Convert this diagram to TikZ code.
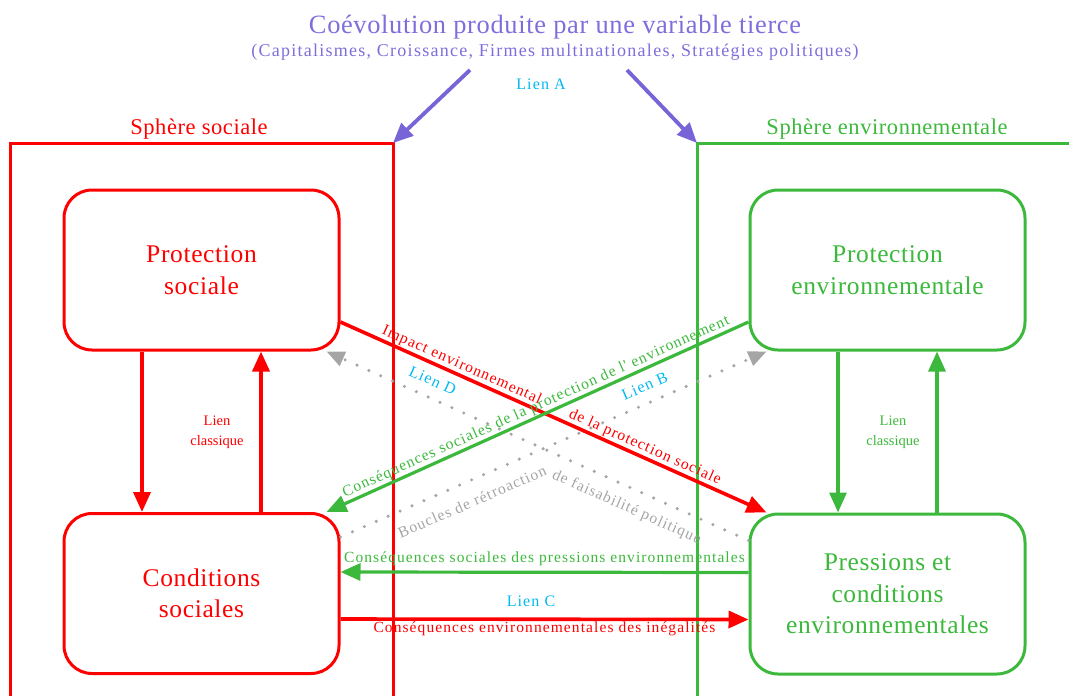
\documentclass[tikz,border=0pt]{standalone}
\usepackage{fontspec}
\setmainfont{Liberation Serif}
\newfontfamily\widefont{Liberation Serif}[LetterSpace=7]
\newfontfamily\semifont{Liberation Serif}[LetterSpace=2.5]
\usetikzlibrary{arrows.meta}
\definecolor{sred}{RGB}{255,0,0}
\definecolor{egreen}{RGB}{60,185,60}
\definecolor{lpurple}{RGB}{120,100,215}
\definecolor{tpurple}{RGB}{125,110,220}
\definecolor{lcyan}{RGB}{0,185,240}
\definecolor{lgray}{RGB}{165,165,165}
\tikzset{
  box/.style={draw, line width=3pt, rounded corners=28pt, minimum width=275pt, minimum height=160pt, align=center, inner sep=0pt, font=\semifont\fontsize{25.5}{31.5}\selectfont},
  spherebox/.style={line width=3pt},
  arr/.style={line width=3.6pt, -{Triangle[length=20pt,width=17pt]}},
  darr/.style={line width=3.4pt, lgray, line cap=round, dash pattern=on 0pt off 13pt, -{Triangle[length=18pt,width=15pt,line cap=butt]}},
  lbl/.style={font=\widefont\fontsize{15.5}{18}\selectfont, inner sep=1pt},
  clbl/.style={font=\fontsize{14.5}{20}\selectfont, inner sep=1pt, align=center},
  lien/.style={font=\widefont\fontsize{16}{18}\selectfont, text=lcyan, inner sep=1pt},
}
\begin{document}
\begin{tikzpicture}[x=1pt,y=-1pt]
\useasboundingbox (0,0) rectangle (1069,696);
% title
\node[text=tpurple, font=\semifont\fontsize{26.4}{30}\selectfont] (title) at (555,27) {Coévolution produite par une variable tierce};
\node[text=tpurple, font=\widefont\fontsize{18}{20}\selectfont] (subtitle) at (555,52) {(Capitalismes, Croissance, Firmes multinationales, Stratégies politiques)};
\node[lien] (lienA) at (541,84) {Lien A};
% spheres
\coordinate (socTR) at (393,143);
\coordinate (envTL) at (697,143);
\draw[spherebox, sred] (10,700) |- (socTR) -- (393,700);
\draw[spherebox, egreen] (697,700) -- (envTL) -- (1075,143);
\node[text=sred, font=\semifont\fontsize{22.5}{25}\selectfont] (socLab) at (199,129) {Sphère sociale};
\node[text=egreen, font=\semifont\fontsize{22.5}{25}\selectfont] (envLab) at (887,129) {Sphère environnementale};
\coordinate (a1) at (470,70);
\coordinate (a2) at (627,70);
\draw[arr, lpurple, line width=3.8pt] (a1) -- (socTR);
\draw[arr, lpurple, line width=3.8pt] (a2) -- (envTL);
% boxes
\node[box, sred] (ps) at (201.5,270) {Protection\\sociale};
\node[box, sred] (cs) at (201.5,593.5) {Conditions\\sociales};
\node[box, egreen] (pe) at (887.5,270) {Protection\\environnementale};
\node[box, egreen] (pc) at (887.5,594) {Pressions et\\conditions\\environnementales};
% classic links
\draw[arr, sred] ([xshift=-59.5pt]ps.south) -- ([xshift=-59.5pt]cs.north);
\draw[arr, sred] ([xshift=59.5pt]cs.north) -- ([xshift=59.5pt]ps.south);
\node[clbl, text=sred] (lcs) at (217,432) {Lien\\classique};
\draw[arr, egreen, line width=3.2pt] ([xshift=-49.5pt]pe.south) -- ([xshift=-49.5pt]pc.north);
\draw[arr, egreen, line width=3.2pt] ([xshift=49.5pt]pc.north) -- ([xshift=49.5pt]pe.south);
\node[clbl, text=egreen] (lce) at (893,432) {Lien\\classique};
% dotted feedback loops
\draw[darr] ([yshift=53.5pt]pc.west) -- ([xshift=-14pt]ps.south east)
  node[pos=0.765, sloped, above=9pt, lien] {Lien D}
  node[pos=0.27, sloped, below=10pt, lbl, text=lgray] {de faisabilité politique};
\draw[darr] ([yshift=56.5pt]cs.east) -- ([xshift=18pt]pe.south west)
  node[pos=0.73, sloped, above=9pt, lien] {Lien B}
  node[pos=0.29, sloped, below=12pt, lbl, text=lgray] {Boucles de rétroaction};
% diagonals
\draw[arr, sred] ([yshift=-52pt]ps.east) -- ([xshift=18pt]pc.north west)
  node[pos=0.275, sloped, above=0pt, lbl, text=sred] {Impact environnemental}
  node[pos=0.705, sloped, above=0pt, lbl, text=sred] {de la protection sociale};
\draw[arr, egreen, line width=3.2pt] ([yshift=-52pt]pe.west) -- ([xshift=-14pt]cs.north east)
  node[pos=0.494, sloped, above=0pt, lbl, text=egreen] {Conséquences sociales de la protection de l' environnement};
% horizontals
\draw[arr, egreen, line width=3.2pt] ([yshift=21.5pt]pc.west) -- ([yshift=21.5pt]cs.east)
  node[pos=0.5, above=4pt, lbl, text=egreen] {Conséquences sociales des pressions environnementales};
\draw[arr, sred] ([yshift=-25.5pt]cs.east) -- ([yshift=-25.5pt]pc.west)
  node[pos=0.5, below=0pt, lbl, text=sred] {Conséquences environnementales des inégalités};
\node[lien] (lienC) at (531,601) {Lien C};
\end{tikzpicture}
\end{document}
